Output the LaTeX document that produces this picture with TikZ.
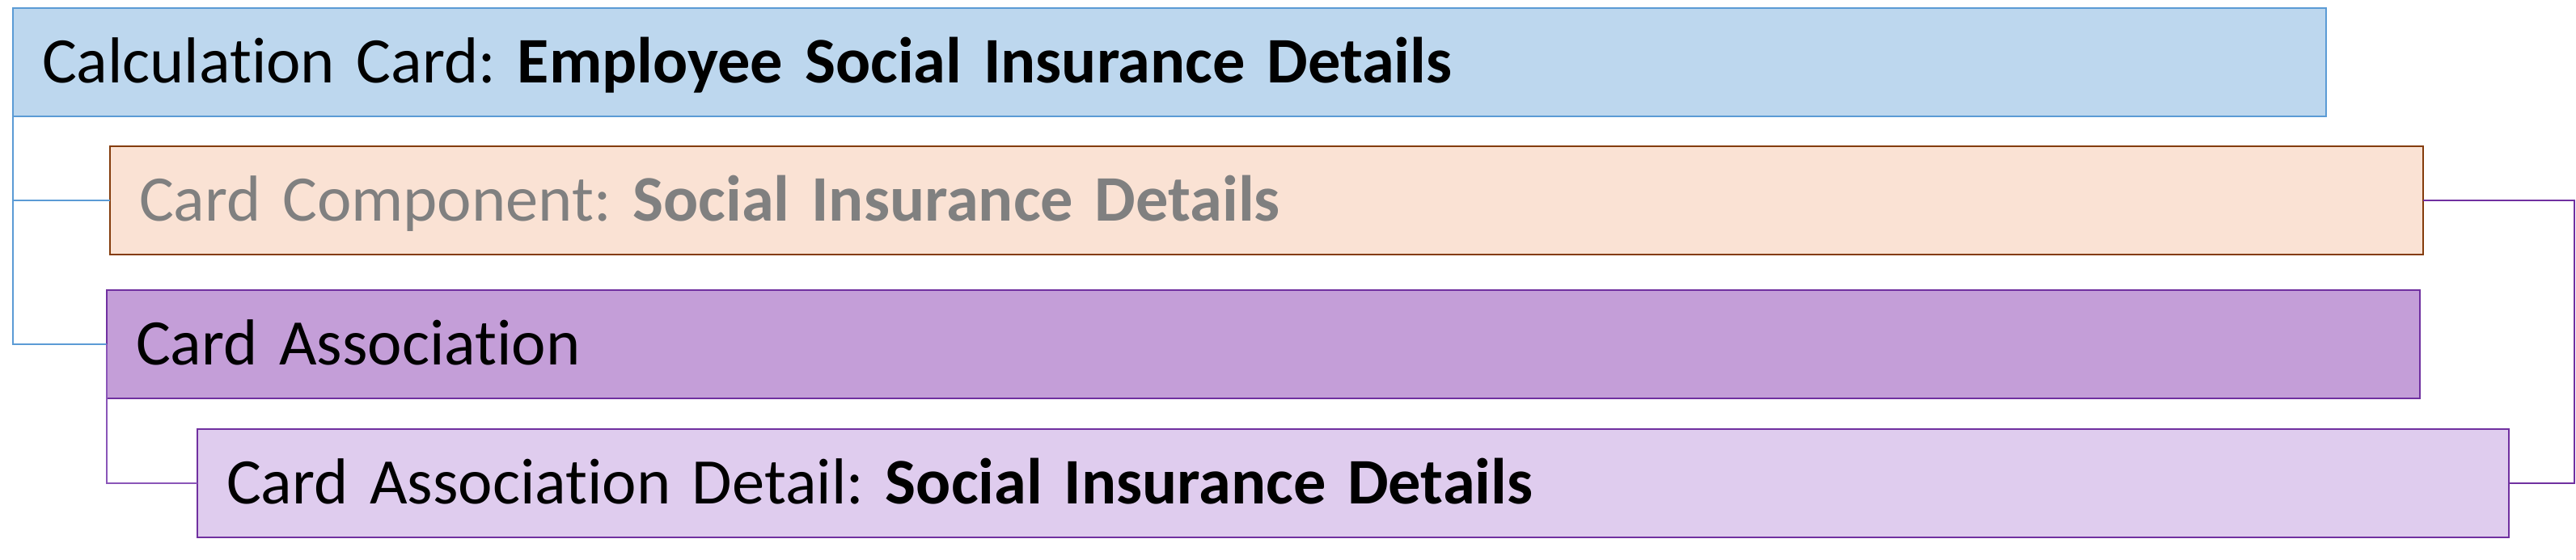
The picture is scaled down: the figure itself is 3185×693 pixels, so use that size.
\documentclass[tikz,border=0pt]{standalone}
\usepackage{fontspec}
\setmainfont{Carlito}[Ligatures=NoCommon]
\usetikzlibrary{positioning}
\frenchspacing

\definecolor{calcfill}{HTML}{BDD7EE}
\definecolor{calcline}{HTML}{5B9BD5}
\definecolor{compfill}{HTML}{FAE2D4}
\definecolor{compline}{HTML}{843C0C}
\definecolor{comptext}{HTML}{808080}
\definecolor{assocfill}{HTML}{C49ED8}
\definecolor{assocline}{HTML}{7030A0}
\definecolor{detailfill}{HTML}{DFCCEE}
\definecolor{linkpurple}{HTML}{8A55B8}

\tikzset{
    cardbox/.style={draw, line width=0.6pt, anchor=north west, outer sep=0pt,
        minimum height=33.5pt, text width=697pt, inner xsep=9pt, align=left,
        text height=12.95pt, text depth=0pt,
        font=\fontsize{20.1}{24}\selectfont},
    link/.style={line width=0.4pt}
}

\begin{document}
\begin{tikzpicture}[x=0.25pt, y=-0.25pt]
                \useasboundingbox (0,0) rectangle (3185,693);

                \node[cardbox, fill=calcfill, draw=calcline] (calc) at (16,10)
                    {Calculation Card: \textbf{Employee Social Insurance Details}};
                \node[cardbox, fill=compfill, draw=compline, text=comptext] (comp) at (136,181)
                    {Card Component: \textbf{Social Insurance Details}};
                \node[cardbox, fill=assocfill, draw=assocline] (assoc) at (132,359)
                    {Card Association};
                \node[cardbox, fill=detailfill, draw=assocline, text width=696.5pt] (detail) at (244,531)
                    {Card Association Detail: \textbf{Social Insurance Details}};

                \coordinate (rail) at (3183,0);

                \draw[link, calcline] (calc.south west) |- (comp.west);
                \draw[link, calcline] (calc.south west) |- (assoc.west);
                \draw[link, linkpurple] (assoc.west) |- (detail.west);
                \draw[link, assocline] (comp.east) -- (comp.east -| rail) |- (detail.east);
            \end{tikzpicture}
\end{document}
